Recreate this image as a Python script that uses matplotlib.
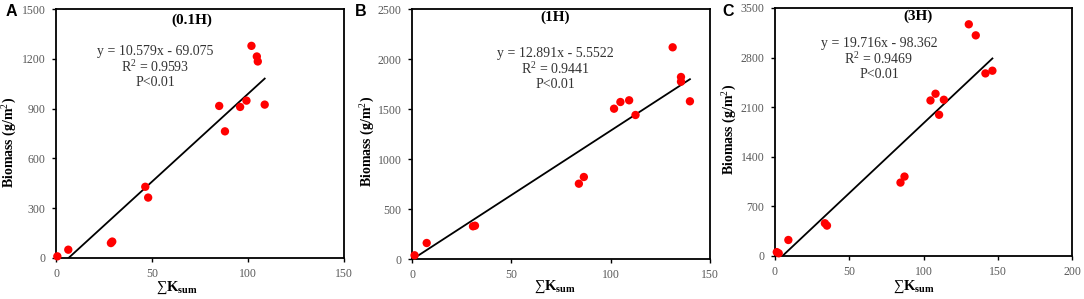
import matplotlib
matplotlib.use("Agg")
import matplotlib.pyplot as plt
import numpy as np

plt.rcParams["mathtext.fontset"] = "custom"
plt.rcParams["mathtext.rm"] = "Liberation Serif"
plt.rcParams["mathtext.it"] = "Liberation Serif:italic"
plt.rcParams["mathtext.bf"] = "Liberation Serif:bold"

# ---- data ----
xA = [0.7, 6.4, 28.6, 29.3, 46.5, 48.0, 85.0, 88.0, 95.9, 99.2, 101.8, 104.6, 105.1, 108.7]
yA = [10, 50, 90, 99, 429, 364, 916, 763, 910, 948, 1278, 1214, 1184, 924]
xB = [1.3, 7.4, 30.7, 31.7, 84.0, 86.5, 101.7, 104.9, 109.3, 112.5, 131.2, 135.4, 135.4, 139.9]
yB = [37, 160, 327, 333, 753, 820, 1503, 1570, 1587, 1440, 2117, 1820, 1773, 1577]
xC = [1.2, 2.5, 9.0, 33.6, 35.0, 84.5, 87.2, 104.7, 108.1, 110.5, 113.7, 130.5, 135.2, 141.7, 146.4]
yC = [55, 38, 226, 462, 429, 1036, 1121, 2195, 2290, 1993, 2205, 3270, 3114, 2577, 2615]

slopes = [10.579, 12.891, 19.716]
intercepts = [-69.075, -5.5522, -98.362]
eq_texts = ["y = 10.579x - 69.075", "y = 12.891x - 5.5522", "y = 19.716x - 98.362"]
r2_texts = ["R$^2$ = 0.9593", "R$^2$ = 0.9441", "R$^2$ = 0.9469"]
p_text = "P<0.01"
titles = ["(0.1H)", "(1H)", "(3H)"]
letters = ["A", "B", "C"]
xlims = [150, 150, 200]
ylims = [1500, 2500, 3500]
xticks = [[0, 50, 100, 150], [0, 50, 100, 150], [0, 50, 100, 150, 200]]
yticks = [[0, 300, 600, 900, 1200, 1500], [0, 500, 1000, 1500, 2000, 2500],
          [0, 700, 1400, 2100, 2800, 3500]]
ylabel = "Biomass (g/m$^2$)"
xlabel = "$\\mathrm{\u2211}\\mathbf{K_{sum}}$"

# ---- layout ----
W, H = 1084, 299
fig = plt.figure(figsize=(W / 100, H / 100), dpi=100)
boxes = [(56, 9, 344, 258), (412, 9, 710, 259), (775, 8, 1072, 256)]
title_pos = [(0.47, 0.955), (0.48, 0.965), (0.48, 0.965)]
eq_pos = [(0.345, 0.83), (0.48, 0.82), (0.35, 0.855)]
ylab_px = [(10, 142), (368, 141), (730, 129)]
xlab_px = [(177, 288), (555, 287), (914, 287)]
letter_x = [11, 361, 728]
serif = ["Liberation Serif", "DejaVu Serif"]

datasets = [(xA, yA), (xB, yB), (xC, yC)]
for i, ((x, y), (l, t, r, b)) in enumerate(zip(datasets, boxes)):
    ax = fig.add_axes([l / W, 1 - b / H, (r - l) / W, (b - t) / H])
    ax.set_xlim(0, xlims[i])
    ax.set_ylim(0, ylims[i])
    ax.set_xticks(xticks[i])
    ax.set_yticks(yticks[i])
    for s in ax.spines.values():
        s.set_linewidth(1.3)
        s.set_color("black")
    ax.tick_params(direction="out", length=3, width=1, colors="black",
                   labelcolor="#5a5a5a", labelsize=8.5, pad=4.5)
    for lab in ax.get_xticklabels() + ax.get_yticklabels():
        lab.set_family(serif)
    xl = np.array([min(x), max(x)])
    yl = slopes[i] * xl + intercepts[i]
    ax.plot(xl, yl, color="black", lw=1.3, zorder=2)
    ax.scatter(x, y, s=36, color="#ff0000", edgecolors="none", zorder=3, clip_on=False)
    ax.text(*title_pos[i], titles[i], transform=ax.transAxes, ha="center", va="center",
            fontsize=11, fontweight="bold", family=serif)
    ex, ey = eq_pos[i]
    for k, txt in enumerate([eq_texts[i], r2_texts[i], p_text]):
        ax.text(ex, ey - k * 0.062, txt, transform=ax.transAxes, ha="center", va="center",
                fontsize=10, family=serif, color="#333333")
    yx, yy = ylab_px[i]
    fig.text(yx / W, 1 - yy / H, ylabel, rotation=90, ha="center", va="center",
             fontsize=10, fontweight="bold", family=serif)
    xx, xy = xlab_px[i]
    fig.text(xx / W, 1 - xy / H, xlabel, ha="center", va="center",
             fontsize=10.5, family=serif)
    fig.text(letter_x[i] / W, 1 - 11 / H, letters[i], fontsize=11.5, fontweight="bold",
             family=["Liberation Sans", "DejaVu Sans"], ha="center", va="center")

fig.savefig("out.png", dpi=100)
